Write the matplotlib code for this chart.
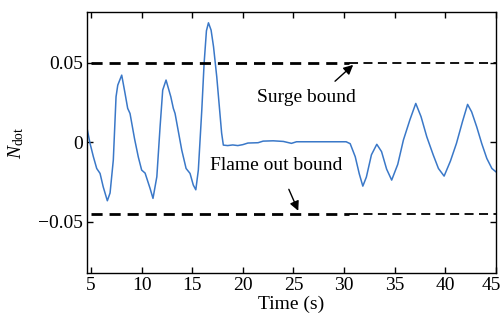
import matplotlib
matplotlib.use("Agg")
import matplotlib.pyplot as plt
from matplotlib.transforms import ScaledTranslation

plt.rcParams['font.family'] = ['Liberation Serif', 'DejaVu Serif']
plt.rcParams['mathtext.fontset'] = 'custom'
plt.rcParams['mathtext.rm'] = 'Liberation Serif'
plt.rcParams['mathtext.it'] = 'Liberation Serif:italic'

time_s = [4.6, 4.9, 5.23, 5.56, 5.89, 6.2, 6.61, 6.88, 7.2, 7.47, 7.64, 8.03, 8.36, 8.62,
          8.85, 9.3, 9.67, 10.0, 10.34, 10.83, 11.12, 11.5, 11.82, 12.08, 12.41, 12.88,
          13.13, 13.3, 13.96, 14.39, 14.78, 15.1, 15.35, 15.6, 15.94, 16.17, 16.4, 16.6,
          16.86, 17.1, 17.42, 17.9, 18.07, 18.5, 19.0, 19.5, 20.0, 20.5, 21.5, 22.0, 23.0,
          24.0, 24.8, 25.3, 26.0, 28.0, 30.2, 30.6, 31.1, 31.5, 31.85, 32.2, 32.7, 33.23,
          33.7, 34.2, 34.7, 35.3, 35.86, 36.5, 37.08, 37.6, 38.17, 38.8, 39.32, 39.88, 40.5,
          41.1, 41.7, 42.2, 42.6, 43.1, 43.6, 44.1, 44.6, 45.0]
n_dot = [0.0088, -0.0008, -0.0092, -0.0166, -0.0197, -0.0281, -0.0369, -0.032, -0.0113,
         0.0285, 0.0358, 0.0421, 0.0306, 0.0212, 0.018, 0.002, -0.0094, -0.0176, -0.0195,
         -0.0291, -0.0354, -0.0218, 0.0096, 0.0327, 0.039, 0.0285, 0.0212, 0.018, -0.005,
         -0.0166, -0.0197, -0.027, -0.030, -0.0176, 0.020, 0.0495, 0.070, 0.075, 0.0704,
         0.060, 0.041, 0.0057, -0.0019, -0.0022, -0.0018, -0.0022, -0.0016, -0.0006,
         -0.0004, 0.0006, 0.0008, 0.0004, -0.0008, 0.0002, 0.0002, 0.0002, 0.0002, -0.001,
         -0.0092, -0.020, -0.0277, -0.022, -0.008, -0.0014, -0.006, -0.017, -0.0239,
         -0.014, 0.0013, 0.014, 0.0243, 0.016, 0.0033, -0.008, -0.0166, -0.0214, -0.012,
         -0.0008, 0.013, 0.0237, 0.019, 0.0096, -0.001, -0.0103, -0.0166, -0.0187]

surge_bound = 0.05
flame_out_bound = -0.0453
x_ticks = [5, 10, 15, 20, 25, 30, 35, 40, 45]
y_ticks = [-0.05, 0, 0.05]
y_tick_labels = ['\u22120.05', '0', '0.05']

fig = plt.figure(figsize=(5.04, 3.24), dpi=100)
ax = fig.add_axes([0.1726, 0.158, 0.8114, 0.805])

ax.plot(time_s, n_dot, color='#3a78c8', lw=1.1)

# bounds: thicker dashes up to ~30 s, thinner afterwards
ax.plot([5, 30.5], [surge_bound, surge_bound], color='black', lw=2.0, ls=(0, (4, 2.5)))
ax.plot([30.5, 45], [surge_bound, surge_bound], color='black', lw=1.3, ls=(0, (5, 3)))
ax.plot([5, 30.5], [flame_out_bound, flame_out_bound], color='black', lw=2.0, ls=(0, (4, 2.5)))
ax.plot([30.5, 45], [flame_out_bound, flame_out_bound], color='black', lw=1.3, ls=(0, (5, 3)))

ax.text(21.4, 0.0283, 'Surge bound', fontsize=14, va='center', ha='left')
ax.annotate('', xy=(31.1, 0.0497), xytext=(28.9, 0.0371),
            arrowprops=dict(arrowstyle='-|>', color='black', lw=1.0, mutation_scale=14))
ax.text(16.76, -0.0145, 'Flame out bound', fontsize=14, va='center', ha='left')
ax.annotate('', xy=(25.58, -0.0448), xytext=(24.43, -0.0281),
            arrowprops=dict(arrowstyle='-|>', color='black', lw=1.0, mutation_scale=14))

ax.set_xlim(4.6, 45)
ax.set_ylim(-0.0822, 0.0818)
ax.set_xticks(x_ticks)
ax.set_yticks(y_ticks)
ax.set_yticklabels(y_tick_labels)
ax.tick_params(direction='in', top=True, right=True, labelsize=14, length=4, width=1, pad=3)
for s in ax.spines.values():
    s.set_linewidth(1.0)

# keep the last x tick label inside the figure
last = ax.get_xticklabels()[-1]
last.set_transform(last.get_transform() + ScaledTranslation(-3 / 72, 0, fig.dpi_scale_trans))

ax.set_xlabel('Time (s)', fontsize=14, labelpad=1)
ax.set_ylabel(r'$N_{\mathrm{dot}}$', fontsize=14)
ax.yaxis.set_label_coords(-0.148, 0.5)

fig.savefig('out.png', dpi=100)
